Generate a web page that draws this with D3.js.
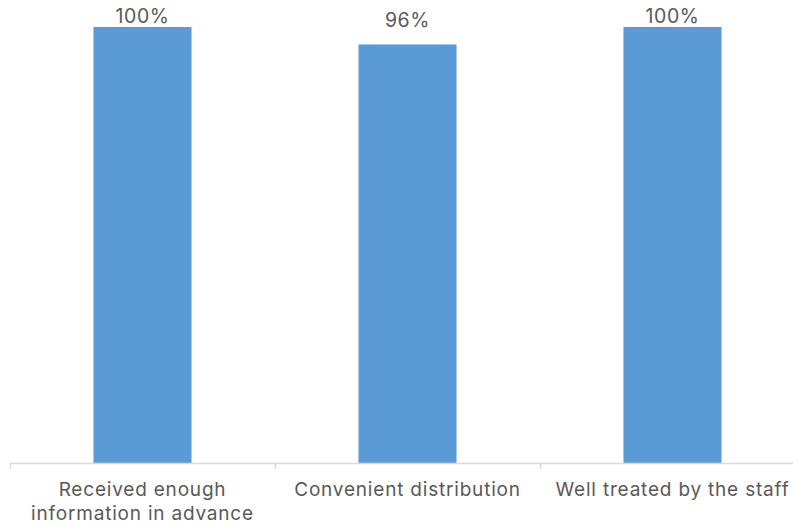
<!DOCTYPE html>
<html>
<head>
<meta charset="utf-8">
<script src="https://cdn.jsdelivr.net/npm/d3@7"></script>
<style>
  body { margin: 0; background: #fff; }
  svg { display: block; font-family: "Inter", sans-serif; }
</style>
</head>
<body>
<svg id="chart" width="793" height="525"></svg>
<script>
const categories = [
    ["Received enough", "information in advance"],
    ["Convenient distribution"],
    ["Well treated by the staff"]
];
const values = [100, 96, 100];

const svg = d3.select("#chart");
const left = 10, right = 805, baseY = 463, topY = 27;

const x = d3.scaleBand()
    .domain(d3.range(categories.length))
    .range([left, right])
    .paddingInner(0.63)
    .paddingOuter(0.315);

const y = d3.scaleLinear().domain([0, 100]).range([baseY, topY]);

// bars
svg.selectAll("rect.bar")
    .data(values)
    .enter().append("rect")
    .attr("class", "bar")
    .attr("x", (d, i) => x(i))
    .attr("y", d => y(d))
    .attr("width", x.bandwidth())
    .attr("height", d => baseY - y(d))
    .attr("fill", "#5B9BD5");

// axis line and ticks
const step = x.step();
svg.append("line")
    .attr("x1", left).attr("x2", 793)
    .attr("y1", baseY + 0.5).attr("y2", baseY + 0.5)
    .attr("stroke", "#D9D9D9").attr("stroke-width", 1.5);

svg.selectAll("line.tick")
    .data(d3.range(categories.length + 1))
    .enter().append("line")
    .attr("class", "tick")
    .attr("x1", i => left + i * step + 0.5)
    .attr("x2", i => left + i * step + 0.5)
    .attr("y1", baseY).attr("y2", baseY + 6)
    .attr("stroke", "#D9D9D9").attr("stroke-width", 1.5);

// value labels
svg.selectAll("text.value")
    .data(values)
    .enter().append("text")
    .attr("class", "value")
    .attr("x", (d, i) => x(i) + x.bandwidth() / 2)
    .attr("y", d => Math.max(y(d) - 17, 23))
    .attr("text-anchor", "middle")
    .attr("font-size", 19.5)
    .attr("letter-spacing", 0.6)
    .attr("fill", "#595959")
    .text(d => d + "%");

// category labels
const labels = svg.selectAll("text.cat")
    .data(categories)
    .enter().append("text")
    .attr("class", "cat")
    .attr("text-anchor", "middle")
    .attr("font-size", 19)
    .attr("letter-spacing", 0.8)
    .attr("fill", "#595959");

labels.selectAll("tspan")
    .data((d, i) => d.map(t => ({t, i})))
    .enter().append("tspan")
    .attr("x", d => x(d.i) + x.bandwidth() / 2)
    .attr("y", (d, j) => 496 + j * 24)
    .text(d => d.t);
</script>
</body>
</html>
